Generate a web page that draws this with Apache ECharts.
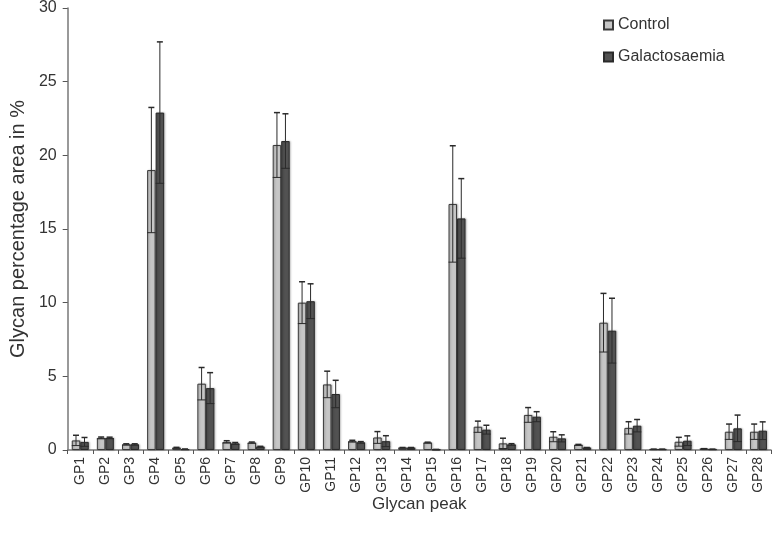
<!DOCTYPE html>
<html>
<head>
<meta charset="utf-8">
<script src="https://cdn.jsdelivr.net/npm/echarts@6/dist/echarts.min.js"></script>
<style>html,body{margin:0;padding:0;background:#fff;}#c{width:772px;height:535px;}</style>
</head>
<body>
<div id="c"></div>
<script>
const categories = ['GP1','GP2','GP3','GP4','GP5','GP6','GP7','GP8','GP9','GP10','GP11','GP12','GP13','GP14','GP15','GP16','GP17','GP18','GP19','GP20','GP21','GP22','GP23','GP24','GP25','GP26','GP27','GP28'];
const controlMean = [0.65,0.82,0.38,19.0,0.15,4.5,0.55,0.5,20.7,10.0,4.45,0.6,0.85,0.15,0.5,16.7,1.58,0.45,2.38,0.9,0.35,8.64,1.5,0.05,0.56,0.08,1.24,1.24];
const controlSD   = [0.35,0.06,0.04,4.25,0.03,1.1,0.08,0.04,2.2,1.42,0.9,0.06,0.4,0.02,0.03,3.95,0.38,0.35,0.5,0.34,0.03,1.99,0.42,0.01,0.3,0.01,0.52,0.52];
const galMean     = [0.55,0.82,0.38,22.9,0.05,4.2,0.45,0.22,20.97,10.1,3.8,0.52,0.6,0.15,0.03,15.72,1.38,0.38,2.26,0.79,0.15,8.1,1.65,0.05,0.63,0.05,1.47,1.31];
const galSD       = [0.3,0.05,0.04,4.8,0.02,1.05,0.06,0.03,1.85,1.18,0.93,0.05,0.37,0.02,0.01,2.7,0.3,0.05,0.34,0.24,0.02,2.2,0.42,0.01,0.33,0.01,0.9,0.6];
const yTicks = [0,5,10,15,20,25,30];

const BAR_W = 8.5;
const FONT = 'Liberation Sans, Arial, sans-serif';

function errSeries(name, means, sds, offset) {
  return {
    type: 'custom',
    name: name + ' error',
    z: 5,
    silent: true,
    data: means.map((m, i) => [i, m - sds[i], m + sds[i]]),
    renderItem: function (params, api) {
      const i = api.value(0);
      const lo = api.coord([i, api.value(1)]);
      const hi = api.coord([i, api.value(2)]);
      const x = lo[0] + offset;
      const cap = 3;
      const half = BAR_W / 2;
      const st = { stroke: '#2a2a2a', lineWidth: 1 };
      return {
        type: 'group',
        children: [
          { type: 'line', shape: { x1: x, y1: lo[1], x2: x, y2: hi[1] }, style: st },
          { type: 'line', shape: { x1: x - cap, y1: hi[1], x2: x + cap, y2: hi[1] }, style: { stroke: '#2a2a2a', lineWidth: 1.5 } },
          { type: 'line', shape: { x1: x - half, y1: lo[1], x2: x + half, y2: lo[1] }, style: st }
        ]
      };
    }
  };
}

const chart = echarts.init(document.getElementById('c'), null, { renderer: 'canvas' });
chart.setOption({
  animation: false,
  backgroundColor: '#fff',
  textStyle: { fontFamily: FONT },
  grid: { left: 62, right: 1, top: 8, bottom: 85, containLabel: false },
  legend: {
    orient: 'vertical',
    left: 598,
    top: 12,
    itemWidth: 9,
    itemHeight: 9,
    itemGap: 16,
    icon: 'rect',
    textStyle: { fontSize: 16, color: '#333', fontFamily: FONT },
    data: ['Control', 'Galactosaemia']
  },
  xAxis: {
    type: 'category',
    data: categories,
    name: 'Glycan peak',
    nameLocation: 'middle',
    nameGap: 46,
    nameMoveOverlap: false,
    nameTextStyle: { fontSize: 17, color: '#333' },
    axisLine: { lineStyle: { color: '#777', width: 1.5 } },
    axisTick: { show: true, alignWithLabel: false, length: 4, lineStyle: { color: '#555' } },
    axisLabel: { rotate: 90, fontSize: 14, color: '#333', margin: 7, interval: 0 }
  },
  yAxis: {
    type: 'value',
    min: 0,
    max: 30,
    interval: 5,
    name: 'Glycan percentage area in %',
    nameLocation: 'middle',
    nameGap: 36,
    nameTextStyle: { fontSize: 20, color: '#333' },
    axisLine: { show: true, lineStyle: { color: '#777', width: 1.5 } },
    axisTick: { show: true, length: 5, lineStyle: { color: '#555' } },
    splitLine: { show: false },
    axisLabel: { fontSize: 16, color: '#333', margin: 11,
      formatter: v => yTicks.includes(v) ? String(v) : '' }
  },
  series: [
    {
      name: 'Control', type: 'bar', data: controlMean, barWidth: BAR_W, barGap: '0%',
      itemStyle: { color: '#c6c6c6', borderColor: '#3a3a3a', borderWidth: 1,
        shadowColor: 'rgba(0,0,0,0.25)', shadowBlur: 2, shadowOffsetX: 1 }
    },
    {
      name: 'Galactosaemia', type: 'bar', data: galMean, barWidth: BAR_W, barGap: '0%',
      itemStyle: { color: '#525252', borderColor: '#2a2a2a', borderWidth: 1,
        shadowColor: 'rgba(0,0,0,0.25)', shadowBlur: 2, shadowOffsetX: 1 }
    },
    errSeries('Control', controlMean, controlSD, -BAR_W / 2),
    errSeries('Galactosaemia', galMean, galSD, BAR_W / 2)
  ]
});
</script>
</body>
</html>
